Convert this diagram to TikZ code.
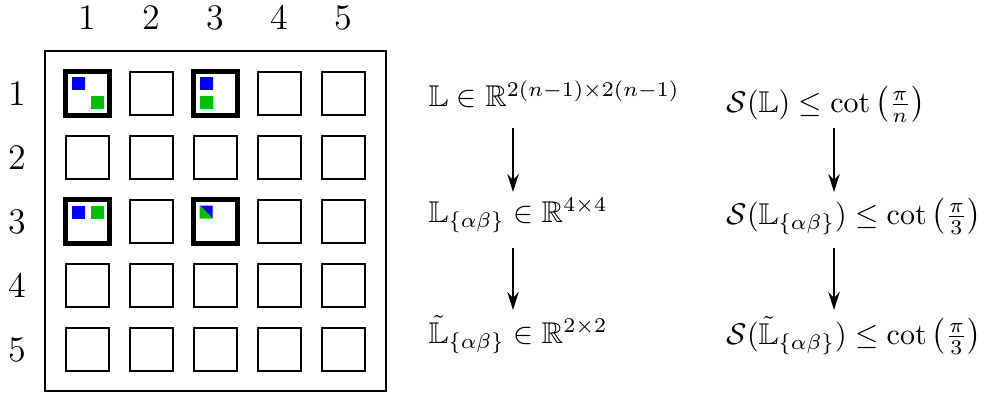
\documentclass[tikz,border=0pt]{standalone}
\usepackage{amssymb}
\usetikzlibrary{arrows.meta}
\definecolor{sqblue}{RGB}{0,0,255}
\definecolor{sqgreen}{RGB}{0,192,0}
\tikzset{
  cell/.style={draw, line width=0.4pt, minimum size=14.33pt, inner sep=0pt},
  hot/.style={line width=1.45pt},
  gridframe/.style={draw, line width=0.7pt, inner sep=0pt},
  lbl/.style={font=\large, inner sep=0pt, anchor=base},
  eq/.style={anchor=base west, inner sep=0pt},
  arr/.style={-{Stealth[length=6pt,width=3.8pt,inset=2pt]}, line width=0.7pt},
}
\begin{document}
\begin{tikzpicture}[x=0.33333pt, y=-0.33333pt]
\useasboundingbox (0,0) rectangle (986,394);
% outer frame
\node[gridframe, minimum width=113.67pt, minimum height=113.33pt] (frame) at (215.5,221) {};
% cells
\foreach \i in {1,...,5}{
  \foreach \j in {1,...,5}{
    \node[cell] (c\i\j) at ({87.5+64*(\j-1)}, {93.5+64*(\i-1)}) {};
  }
  \node[lbl] (top\i) at ({87.5+64*(\i-1)}, 29.6) {\i};
  \node[lbl] (side\i) at (17.5, {105.1+64*(\i-1)}) {\i};
}
% highlighted cells
\foreach \c in {c11,c13,c31,c33}{
  \draw[hot] (\c.south west) rectangle (\c.north east);
}
% coloured markers
\fill[sqblue, shift={(c11.center)}] (-16,-16) rectangle (-3,-3);
\fill[sqgreen, shift={(c11.center)}] (3,3) rectangle (16,16);
\fill[sqblue, shift={(c13.center)}] (-16,-16) rectangle (-3,-3);
\fill[sqgreen, shift={(c13.center)}] (-16,3) rectangle (-3,16);
\fill[sqblue, shift={(c31.center)}] (-16,-16) rectangle (-3,-3);
\fill[sqgreen, shift={(c31.center)}] (3,-16) rectangle (16,-3);
\fill[sqblue, shift={(c33.center)}] (-16,-16) -- (-3,-16) -- (-3,-3) -- cycle;
\fill[sqgreen, shift={(c33.center)}] (-16,-16) -- (-16,-3) -- (-3,-3) -- cycle;
% equations
\node[eq] (L1) at (428,107) {$\mathbb{L} \in \mathbb{R}^{2(n-1)\times 2(n-1)}$};
\node[eq] (L2) at (428,222) {$\mathbb{L}_{\{\alpha\beta\}} \in \mathbb{R}^{4\times 4}$};
\node[eq] (L3) at (428,343) {$\tilde{\mathbb{L}}_{\{\alpha\beta\}} \in \mathbb{R}^{2\times 2}$};
\node[eq] (R1) at (726,112) {$\mathcal{S}(\mathbb{L}) \leq \cot\left(\frac{\pi}{n}\right)$};
\node[eq] (R2) at (726,224) {$\mathcal{S}(\mathbb{L}_{\{\alpha\beta\}}) \leq \cot\left(\frac{\pi}{3}\right)$};
\node[eq] (R3) at (726,344) {$\mathcal{S}(\tilde{\mathbb{L}}_{\{\alpha\beta\}}) \leq \cot\left(\frac{\pi}{3}\right)$};
% arrows
\coordinate (la1) at (513,128);
\coordinate (la2) at (513,192);
\coordinate (la3) at (513,248);
\coordinate (la4) at (513,310);
\coordinate (ra1) at (834,128);
\coordinate (ra2) at (834,192);
\coordinate (ra3) at (834,248);
\coordinate (ra4) at (834,310);
\draw[arr] (la1) -- (la2);
\draw[arr] (la3) -- (la4);
\draw[arr] (ra1) -- (ra2);
\draw[arr] (ra3) -- (ra4);
\end{tikzpicture}
\end{document}
